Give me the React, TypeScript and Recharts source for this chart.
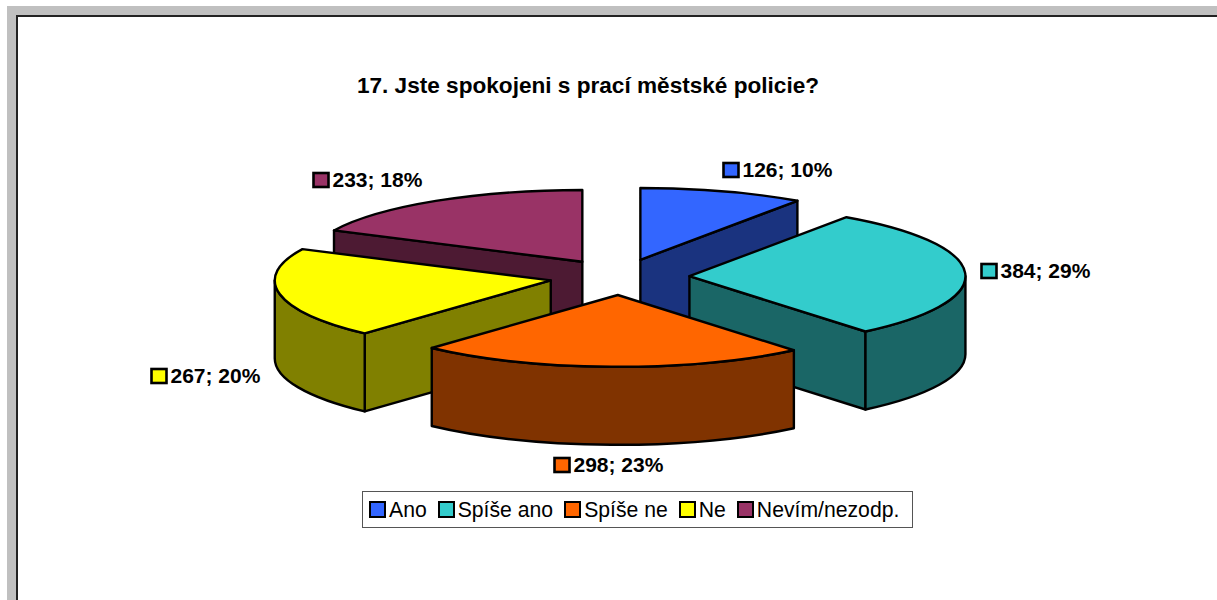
import React from 'react';
import { PieChart, Pie, Legend } from 'recharts';

const categories = ['Ano', 'Spíše ano', 'Spíše ne', 'Ne', 'Nevím/nezodp.'];
const counts = [126, 384, 298, 267, 233];
const topColors = ['#3366FF', '#33CCCC', '#FF6600', '#FFFF00', '#993366'];
const sideColors = ['#1A337F', '#1A6666', '#803300', '#808000', '#4D1A33'];

// back slices first, so the front ones cover them
const paintOrder = [0, 4, 1, 3, 2];

// label swatch position relative to the pie centre
const labelOffsets = [
  [103, -107],
  [361, -6],
  [-66, 188],
  [-469, 99],
  [-307, -97],
];

const data = categories.map((name, i) => ({ name, value: counts[i], fill: topColors[i] }));

const FONT = '"Liberation Sans", Arial, sans-serif';
const TILT = 0.26;
const DEPTH = 78;
const EXPLODE = 70;
const LIFT = 18;
const INK = '#000';

const rad = (deg: number) => (deg * Math.PI) / 180;

function Slice(props: any) {
  const { cx, cy, outerRadius, startAngle, endAngle, midAngle, index } = props;
  // recharts angles run counter-clockwise from 3 o'clock, here clockwise from 12
  const from = 90 - startAngle;
  const to = 90 - endAngle;
  const mid = 90 - midAngle;
  const rx = outerRadius;
  const ry = outerRadius * TILT;
  const ax = cx + EXPLODE * Math.sin(rad(mid));
  const ay = cy - LIFT * Math.cos(rad(mid));
  const pt = (a: number, drop = 0) => [ax + rx * Math.sin(rad(a)), ay - ry * Math.cos(rad(a)) + drop];
  const arc = (a: number, b: number, drop = 0, sweep = 1) => {
    const [x, y] = pt(b, drop);
    return `A ${rx} ${ry} 0 ${Math.abs(b - a) > 180 ? 1 : 0} ${sweep} ${x} ${y}`;
  };
  const face = (a: number) => {
    const [x, y] = pt(a);
    return `M ${ax} ${ay} L ${x} ${y} L ${x} ${y + DEPTH} L ${ax} ${ay + DEPTH} Z`;
  };
  const side = { fill: sideColors[index], stroke: INK, strokeWidth: 2.4, strokeLinejoin: 'round' as const };
  const wallFrom = Math.max(from, 90);
  const wallTo = Math.min(to, 270);
  const [sx, sy] = pt(from);
  const [wx, wy] = pt(wallFrom);
  const [bx, by] = pt(wallTo, DEPTH);

  return (
    <g>
      {Math.sin(rad(from)) < -0.001 && <path d={face(from)} {...side} />}
      {Math.sin(rad(to)) > 0.001 && <path d={face(to)} {...side} />}
      {wallFrom < wallTo && (
        <path
          d={`M ${wx} ${wy} ${arc(wallFrom, wallTo)} L ${bx} ${by} ${arc(wallTo, wallFrom, DEPTH, 0)} Z`}
          {...side}
        />
      )}
      <path
        d={`M ${ax} ${ay} L ${sx} ${sy} ${arc(from, to)} Z`}
        fill={topColors[index]}
        stroke={INK}
        strokeWidth={2.4}
        strokeLinejoin="round"
      />
    </g>
  );
}

function SliceLabel(props: any) {
  const { cx, cy, index, value, percent } = props;
  const [dx, dy] = labelOffsets[index];
  const x = cx + dx;
  const y = cy + dy;
  return (
    <g>
      <rect x={x + 1} y={y - 7} width={15} height={14} fill={topColors[index]} stroke={INK} strokeWidth={2.6} />
      <text x={x + 20} y={y + 7} fontFamily={FONT} fontSize={21} fontWeight="bold" fill={INK}>
        {`${value}; ${Math.round(percent * 100)}%`}
      </text>
    </g>
  );
}

function ChartLegend() {
  return (
    <div
      style={{
        boxSizing: 'border-box',
        height: 37,
        border: '1px solid #555',
        background: '#fff',
        display: 'flex',
        alignItems: 'center',
        paddingLeft: 6,
        fontFamily: FONT,
        fontSize: 21.2,
        color: INK,
        whiteSpace: 'nowrap',
      }}
    >
      {categories.map((name, i) => (
        <span key={name} style={{ display: 'flex', alignItems: 'center', marginRight: 11 }}>
          <span
            style={{
              boxSizing: 'border-box',
              width: 17,
              height: 17,
              border: '2.5px solid #000',
              background: topColors[i],
              marginRight: 3,
            }}
          />
          {name}
        </span>
      ))}
    </div>
  );
}

export default function App() {
  return (
    <div style={{ position: 'fixed', left: 0, top: 0, width: 1217, height: 600, overflow: 'hidden', background: '#fff' }}>
      <div style={{ position: 'absolute', left: 7, top: 6, right: 0, bottom: 0, background: '#c0c0c0' }} />
      <div
        style={{
          position: 'absolute',
          left: 16,
          top: 15,
          right: 0,
          bottom: 0,
          background: '#fff',
          borderTop: '2px solid #222',
          borderLeft: '2px solid #222',
        }}
      />
      <div style={{ position: 'absolute', left: 0, top: 0 }}>
        <PieChart width={1217} height={600} margin={{ top: 0, right: 0, bottom: 0, left: 0 }}>
          <text x={588} y={93} textAnchor="middle" fontFamily={FONT} fontSize={22.6} fontWeight="bold" fill={INK}>
            17. Jste spokojeni s prací městské policie?
          </text>
          {paintOrder.map((rank, i) => (
            <Pie
              key={rank}
              data={data}
              dataKey="value"
              nameKey="name"
              cx={619.5}
              cy={277}
              innerRadius={0}
              outerRadius={276}
              startAngle={90}
              endAngle={-270}
              stroke="none"
              isAnimationActive={false}
              labelLine={false}
              label={i === paintOrder.length - 1 ? SliceLabel : false}
              shape={(p: any) => (p.index === rank ? <Slice {...p} /> : <g />)}
            />
          ))}
          <Legend
            wrapperStyle={{ position: 'absolute', left: 362, top: 491, width: 551, height: 37 }}
            content={() => <ChartLegend />}
          />
        </PieChart>
      </div>
    </div>
  );
}
